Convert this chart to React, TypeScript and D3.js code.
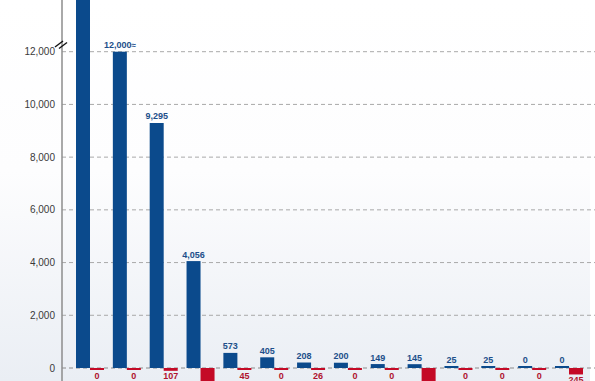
import React from "react";
import * as d3 from "d3";

const categories = ["c1","c2","c3","c4","c5","c6","c7","c8","c9","c10","c11","c12","c13","c14"];
const blueValues = [15000, 12000, 9295, 4056, 573, 405, 208, 200, 149, 145, 25, 25, 0, 0];
const blueLabels = ["", "12,000", "9,295", "4,056", "573", "405", "208", "200", "149", "145", "25", "25", "0", "0"];
const redValues = [0, 0, 107, 800, 45, 0, 26, 0, 0, 800, 0, 0, 0, 245];
const redLabels = ["0", "0", "107", "", "45", "0", "26", "0", "0", "", "0", "0", "0", "245"];
const yTicks = [0, 2000, 4000, 6000, 8000, 10000, 12000];

const W = 595, H = 381;
const BLUE = "#0b4a8c";
const RED = "#c40a26";

export default function App() {
  const x = d3.scaleBand<string>().domain(categories).range([76, 583]).paddingInner(0.24).paddingOuter(0);
  const sub = d3.scaleBand<string>().domain(["blue", "red"]).range([0, x.bandwidth()]);
  const y = d3.scaleLinear().domain([0, 12000]).range([368, 51.7]);
  const fmt = d3.format(",");
  const y0 = y(0);
  const minH = 2;

  return (
    <svg width={W} height={H} style={{ position: "absolute", left: 0, top: 0 }}>
      <defs>
        <linearGradient id="bg" x1="0" y1="0" x2="0" y2="1">
          <stop offset="0" stopColor="#ffffff" />
          <stop offset="0.45" stopColor="#fdfdfe" />
          <stop offset="1" stopColor="#eaeef4" />
        </linearGradient>
      </defs>
      <rect x={0} y={0} width={590} height={H} fill="url(#bg)" />
      {yTicks.map((t) => (
        <g key={t}>
          <line x1={62} x2={595} y1={y(t)} y2={y(t)} stroke={t === 0 ? "#8a8a8a" : "#a9a9a9"} strokeWidth={1} strokeDasharray="4,3" />
          <text x={55} y={y(t)} dy="0.35em" textAnchor="end" fontFamily="Arial, Liberation Sans, sans-serif" fontSize={10} fill="#3a3a3a">
            {fmt(t)}
          </text>
        </g>
      ))}
      {categories.map((c, i) => {
        const bx = (x(c) as number) + (sub("blue") as number);
        const rx = (x(c) as number) + (sub("red") as number);
        const bw = sub.bandwidth();
        const bh = Math.max(y0 - y(blueValues[i]), minH);
        const rh = Math.max(y(-redValues[i]) - y0, minH);
        return (
          <g key={c}>
            <rect x={bx} y={y0 - bh} width={bw} height={bh} fill={BLUE} />
            <rect x={rx} y={y0} width={bw} height={rh} fill={RED} />
            {blueLabels[i] && (
              <text x={bx + bw / 2} y={y0 - bh - 3.5} textAnchor="middle" fontFamily="Arial, Liberation Sans, sans-serif" fontWeight="bold" fontSize={9} fill="#1d4f8a">
                {blueLabels[i]}
                {i === 1 ? <tspan fontSize={8}>≈</tspan> : null}
              </text>
            )}
            {redLabels[i] && (
              <text x={rx + bw / 2} y={y0 + rh + 8.5} textAnchor="middle" fontFamily="Arial, Liberation Sans, sans-serif" fontWeight="bold" fontSize={9} fill="#b0122e">
                {redLabels[i]}
              </text>
            )}
          </g>
        );
      })}
      <line x1={62} x2={62} y1={0} y2={H} stroke="#8c8c8c" strokeWidth={1.5} />
      <line x1={55} x2={63} y1={47} y2={41} stroke="#111" strokeWidth={1.4} />
      <line x1={59} x2={67} y1={48.5} y2={42.5} stroke="#111" strokeWidth={1.4} />
    </svg>
  );
}
